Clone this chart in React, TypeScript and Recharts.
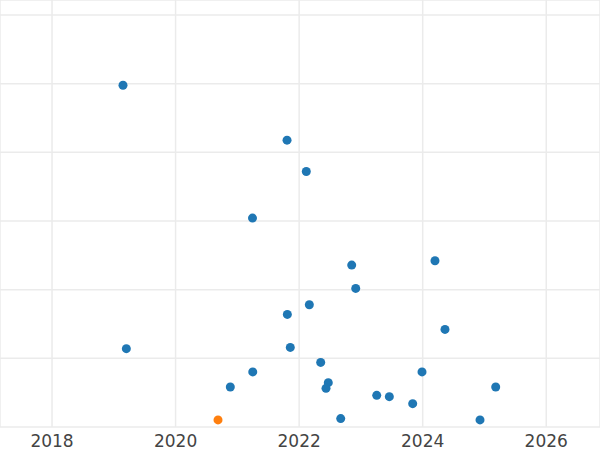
import { ScatterChart, Scatter, XAxis, YAxis, CartesianGrid } from 'recharts';

// decimal year, value
const blueYears = [
  2019.149, 2021.804, 2022.116, 2021.245, 2022.851, 2024.199, 2022.916, 2022.165,
  2021.809, 2024.361, 2019.203, 2021.857, 2022.349, 2021.249, 2023.989, 2022.472,
  2022.435, 2020.886, 2025.182, 2023.256, 2023.46, 2023.838, 2022.673, 2024.928,
];
const blueValues = [
  4.977, 4.177, 3.72, 3.042, 2.358, 2.421, 2.018, 1.781,
  1.64, 1.421, 1.141, 1.159, 0.941, 0.802, 0.802, 0.646,
  0.563, 0.583, 0.583, 0.461, 0.442, 0.34, 0.122, 0.103,
];
const orangeYears = [2020.687];
const orangeValues = [0.103];

const xTicks = [2018, 2020, 2022, 2024, 2026];
const yTicks = [1, 2, 3, 4, 5, 6];

const blueData = blueYears.map((x, i) => ({ x, y: blueValues[i] }));
const orangeData = orangeYears.map((x, i) => ({ x, y: orangeValues[i] }));

function Dot(props: any) {
  const { cx, cy, fill } = props;
  return <circle cx={cx} cy={cy} r={4.5} fill={fill} />;
}

export default function App() {
  return (
    <div style={{ width: 600, height: 450 }}>
      <style>{`body { margin: 0; }`}</style>
      <ScatterChart width={600} height={450} margin={{ top: 0, right: 0, bottom: 0, left: 0 }}>
        <CartesianGrid stroke="#ebebeb" strokeWidth={1.5} />
        <XAxis
          type="number"
          dataKey="x"
          domain={[2017.158, 2026.87]}
          ticks={xTicks}
          allowDataOverflow
          axisLine={false}
          tickLine={false}
          height={23}
          tick={{ fill: '#444', fontSize: 17, fontFamily: 'DejaVu Sans' }}
        />
        <YAxis type="number" dataKey="y" domain={[0, 6.218]} ticks={yTicks} allowDataOverflow hide />
        <Scatter data={blueData} fill="#1f77b4" shape={<Dot />} isAnimationActive={false} />
        <Scatter data={orangeData} fill="#ff7f0e" shape={<Dot />} isAnimationActive={false} />
      </ScatterChart>
    </div>
  );
}
